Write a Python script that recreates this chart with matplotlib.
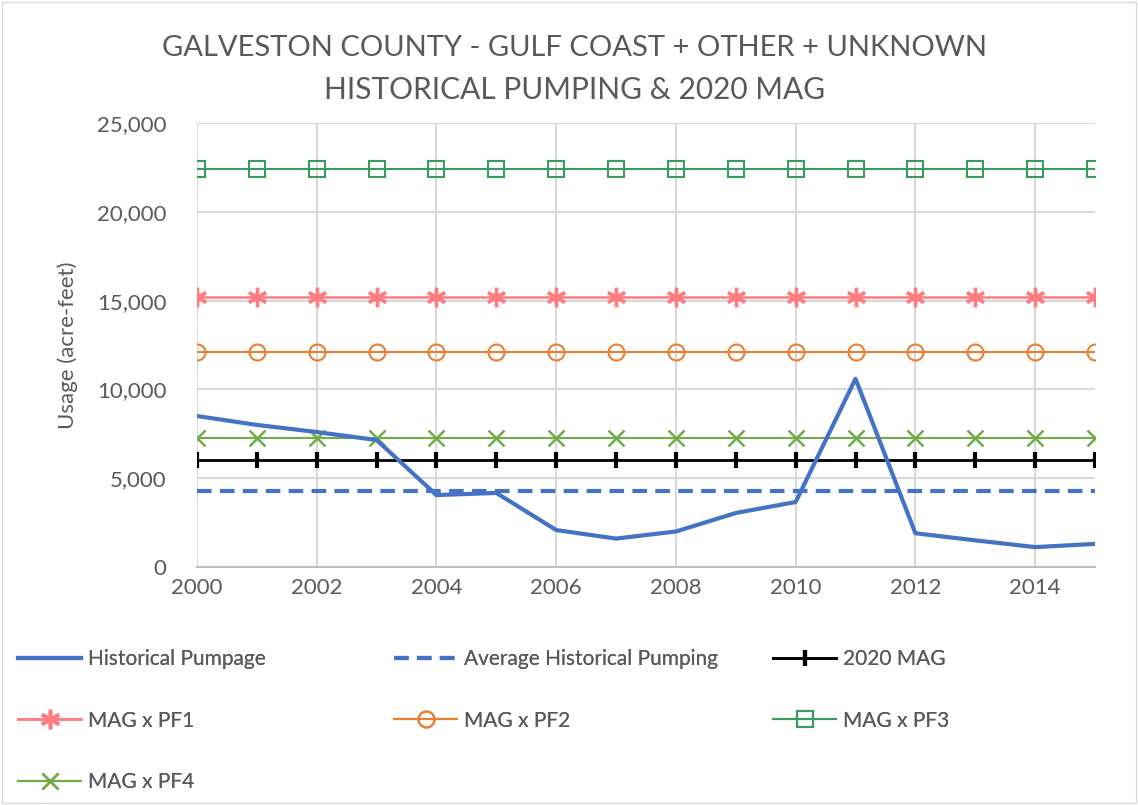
import numpy as np
import matplotlib.pyplot as plt
from matplotlib.patches import Rectangle

plt.rcParams['font.family'] = ['Lato', 'DejaVu Sans']

years = list(range(2000, 2016))
historical = [8500, 8000, 7600, 7150, 4050, 4170, 2080, 1600,
              2000, 3040, 3660, 10600, 1900, 1500, 1120, 1300]
avg_hist = 4267
mag_2020 = 6000
pf1 = 15200
pf2 = 12100
pf3 = 22400
pf4 = 7240

fig = plt.figure(figsize=(11.38, 8.05), dpi=100)
ax = fig.add_axes([197 / 1138, 1 - 567 / 805, (1095 - 197) / 1138, (567 - 123) / 805])

n = len(years)
gray = '#595959'

ax.plot(years, historical, color='#4472C4', lw=3, label='Historical Pumpage', zorder=5)
ax.plot(years, [avg_hist] * n, color='#4472C4', lw=3, ls=(0, (3.5, 2)),
        label='Average Historical Pumping', zorder=4)
ax.plot(years, [mag_2020] * n, color='black', lw=2, marker='|', ms=11, mew=3,
        label='2020 MAG', zorder=4)
ax.plot(years, [pf1] * n, color='#FF7C80', lw=1.8, marker=(6, 2, 0), ms=14, mew=2.4,
        label='MAG x PF1', zorder=4)
ax.plot(years, [pf2] * n, color='#ED7D31', lw=1.5, marker='o', ms=11.5, mew=1.5,
        mfc='none', label='MAG x PF2', zorder=4)
ax.plot(years, [pf3] * n, color='#3A9B5E', lw=1.5, marker='s', ms=12, mew=1.5,
        mfc='none', label='MAG x PF3', zorder=4)
ax.plot(years, [pf4] * n, color='#70AD47', lw=1.5, marker='x', ms=12, mew=1.8,
        label='MAG x PF4', zorder=4)

ax.set_xlim(2000, 2015)
ax.set_ylim(0, 25000)
ax.set_xticks(range(2000, 2016, 2))
ax.set_yticks(range(0, 25001, 5000))
ax.yaxis.set_major_formatter(plt.FuncFormatter(lambda v, p: f'{int(v):,}'))
ax.grid(True, color='#D9D9D9', lw=1.5, zorder=0)
ax.set_axisbelow(True)
for s in ['top', 'right', 'left']:
    ax.spines[s].set_visible(False)
ax.spines['bottom'].set_color('#BFBFBF')
ax.spines['bottom'].set_linewidth(1.5)
ax.tick_params(axis='both', length=0, labelsize=16, colors=gray)
ax.tick_params(axis='y', pad=22)
ax.tick_params(axis='x', pad=8)
ax.set_ylabel('Usage (acre-feet)', fontsize=16, color=gray, labelpad=14)

fig.text(0.505, 1 - 48 / 805, 'GALVESTON COUNTY - GULF COAST + OTHER + UNKNOWN',
         ha='center', va='center', fontsize=21, color=gray)
fig.text(0.505, 1 - 90 / 805, 'HISTORICAL PUMPING & 2020 MAG',
         ha='center', va='center', fontsize=21.5, color=gray)

handles, labels = ax.get_legend_handles_labels()
cols = [[0, 3, 6], [1, 4], [2, 5]]
xs = [10, 386, 765]
for c, x0 in zip(cols, xs):
    leg = fig.legend([handles[i] for i in c], [labels[i] for i in c],
                     loc='upper left', bbox_to_anchor=(x0 / 1138, 1 - 641 / 805),
                     frameon=False, fontsize=15, handlelength=3, handletextpad=0.35,
                     labelspacing=1.98, borderaxespad=0, labelcolor=gray)
    fig.add_artist(leg)

fig.patches.append(Rectangle((0.002, 0.002), 0.996, 0.996, transform=fig.transFigure,
                             fill=False, edgecolor='#D9D9D9', lw=1))

fig.savefig('out.png', dpi=100)
